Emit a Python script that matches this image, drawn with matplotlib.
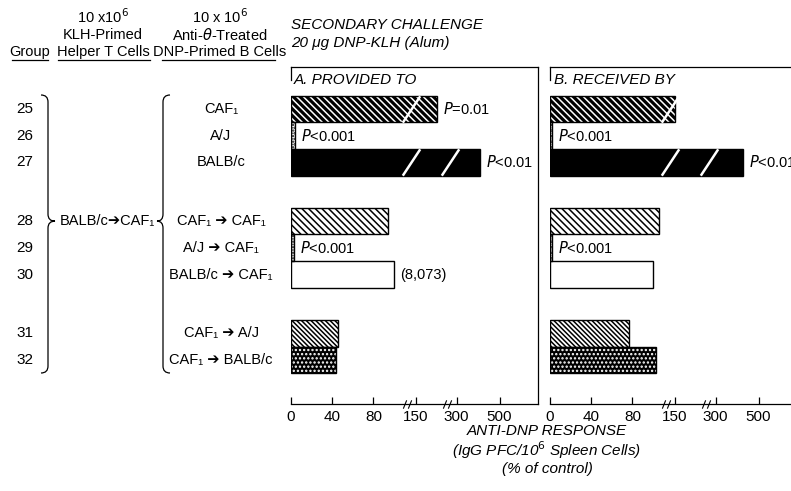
import numpy as np
import matplotlib
matplotlib.use('Agg')
import matplotlib.pyplot as plt
from matplotlib.path import Path
from matplotlib.patches import PathPatch

# ---------------- data ----------------
groups = ['25', '26', '27', '28', '29', '30', '31', '32']
t_cells = 'BALB/c➔CAF₁'
b_cells = ['CAF₁', 'A/J', 'BALB/c', 'CAF₁ ➔ CAF₁', 'A/J ➔ CAF₁',
           'BALB/c ➔ CAF₁', 'CAF₁ ➔ A/J', 'CAF₁ ➔ BALB/c']
provided = [230, 4, 410, 94, 3, 100, 46, 44]
received = [150, 2, 428, 106, 2, 100, 77, 103]
notes_provided = [r'$P$=0.01', r'$P$<0.001', r'$P$<0.01', '', r'$P$<0.001', '(8,073)', '', '']
notes_received = ['', r'$P$<0.001', r'$P$<0.01', '', r'$P$<0.001', '', '', '']
tick_values = [0, 40, 80, 150, 300, 500]

# ---------------- style / layout ----------------
FONT = ['Liberation Sans', 'DejaVu Sans']
plt.rcParams['font.family'] = FONT
plt.rcParams['mathtext.fontset'] = 'dejavusans'
plt.rcParams['hatch.linewidth'] = 1.1

W, H = 791, 491
def fx(x):
    return x / W
def fy(y):
    return 1 - y / H

fig = plt.figure(figsize=(W / 100, H / 100), dpi=100)

ypos = [0, 1, 2, 4.2, 5.2, 6.2, 8.4, 9.4]
faces = ['black', 'white', 'black', 'white', 'white', 'white', 'white', 'black']
hcols = ['white', 'black', 'black', 'black', 'black', 'black', 'black', 'white']
hatches = ['\\' * 5, '.' * 6, '', '\\' * 5, '.' * 6, '', '\\' * 7, '.' * 4]

# broken-axis scale (piecewise linear)
VK = [0, 110, 150, 300, 500, 700]
PK = [0, 113.4, 124.5, 165.5, 208.5, 251.5]
def fwd(v):
    return np.interp(np.asarray(v, dtype=float), VK, PK)
def inv(p):
    return np.interp(np.asarray(p, dtype=float), PK, VK)
AXIS_BREAKS = [120, 265]
BAR_BREAKS = [132, 276]

slash = Path([(-0.33, -0.5), (0.33, 0.5)], [Path.MOVETO, Path.LINETO])
dbl = Path([(-0.5, -0.5), (-0.1, 0.5), (0.1, -0.5), (0.5, 0.5)],
           [Path.MOVETO, Path.LINETO, Path.MOVETO, Path.LINETO])

def panel(left_px, right_px, vals, notes, right_spine):
    ax = fig.add_axes([fx(left_px), fy(404), (right_px - left_px) / W, (404 - 67) / H])
    ax.set_xscale('function', functions=(fwd, inv))
    ax.set_xlim(0, float(inv(right_px - left_px)))
    ax.set_ylim(11.05, -1.573)
    bars = ax.barh(ypos, vals, height=1.0, color=faces, edgecolor=hcols, linewidth=0)
    for b, h in zip(bars, hatches):
        if h:
            b.set_hatch(h)
    ax.barh(ypos, vals, height=1.0, fill=False, edgecolor='black', linewidth=1.0)
    for v, y in zip(vals, ypos):
        for brk in BAR_BREAKS:
            if v > brk + 10:
                ax.plot([brk], [y], marker=slash, ms=19, mec='white', mew=1.8,
                        ls='none', zorder=5)
    for v, y, n in zip(vals, ypos, notes):
        if n:
            ax.annotate(n, xy=(v, y), xytext=(4, 0), textcoords='offset points',
                        va='center', ha='left', fontsize=10.5, annotation_clip=False)
    ax.plot(AXIS_BREAKS, [0, 0], transform=ax.get_xaxis_transform(), marker=dbl, ms=6,
            mec='black', mew=0.8, ls='none', clip_on=False)
    ax.set_xticks(tick_values)
    ax.set_xticklabels([str(t) for t in tick_values])
    ax.minorticks_off()
    ax.set_yticks([])
    ax.tick_params(axis='x', direction='in', length=5, width=0.9, labelsize=11, pad=4)
    ax.spines['right'].set_visible(right_spine)
    ax.spines['left'].set_bounds(-1.573, -1.08)
    for s in ax.spines.values():
        s.set_linewidth(0.9)
    return ax

axA = panel(291, 538, provided, notes_provided, True)
axB = panel(550, 791, received, notes_received, False)

# ---------------- titles ----------------
fig.text(fx(291), fy(25), 'SECONDARY CHALLENGE', style='italic', fontsize=11, va='center')
fig.text(fx(291), fy(43), '20 μg DNP-KLH (Alum)', style='italic', fontsize=11, va='center')
fig.text(fx(294), fy(80), 'A. PROVIDED TO', style='italic', fontsize=11, va='center')
fig.text(fx(554), fy(80), 'B. RECEIVED BY', style='italic', fontsize=11, va='center')

fig.text(fx(547), fy(431), 'ANTI-DNP RESPONSE', style='italic', fontsize=11, va='center', ha='center')
fig.text(fx(547), fy(450), '(IgG PFC/10$^6$ Spleen Cells)', style='italic', fontsize=11, va='center', ha='center')
fig.text(fx(547), fy(469), '(% of control)', style='italic', fontsize=11, va='center', ha='center')

# ---------------- left table ----------------
fig.text(fx(30), fy(52), 'Group', fontsize=10.5, va='center', ha='center')
fig.text(fx(103), fy(17), '10 x10$^6$', fontsize=10.5, va='center', ha='center')
fig.text(fx(103), fy(35), 'KLH-Primed', fontsize=10.5, va='center', ha='center')
fig.text(fx(103), fy(52), 'Helper T Cells', fontsize=10.5, va='center', ha='center')
fig.text(fx(220), fy(17), '10 x 10$^6$', fontsize=10.5, va='center', ha='center')
fig.text(fx(220), fy(35), r'Anti-$\theta$-Treated', fontsize=10.5, va='center', ha='center')
fig.text(fx(220), fy(52), 'DNP-Primed B Cells', fontsize=10.5, va='center', ha='center')
for x0, x1 in [(12, 48), (58, 150), (162, 275)]:
    fig.add_artist(plt.Line2D([fx(x0), fx(x1)], [fy(60), fy(60)], color='black', lw=0.9,
                              transform=fig.transFigure))

# row labels placed on the bar rows via panel A's y scale
for y, g, b in zip(ypos, groups, b_cells):
    yy = axA.transData.transform((0, y))[1] / H
    fig.text(fx(25), yy, g, fontsize=11, va='center', ha='center')
    fig.text(fx(221), yy, b, fontsize=10.5, va='center', ha='center')

ymid = axA.transData.transform((0, ypos[3]))[1] / H
fig.text(fx(107), ymid, t_cells, fontsize=10.5, va='center', ha='center')

def brace(xv, xtip, xend, ytop, ymid_px, ybot):
    verts = [(xend, ytop), (xv, ytop), (xv, ytop + 7),
             (xv, ymid_px - 7),
             (xv, ymid_px), (xtip, ymid_px),
             (xv, ymid_px), (xv, ymid_px + 7),
             (xv, ybot - 7),
             (xv, ybot), (xend, ybot)]
    codes = [Path.MOVETO, Path.CURVE3, Path.CURVE3, Path.LINETO,
             Path.CURVE3, Path.CURVE3, Path.CURVE3, Path.CURVE3, Path.LINETO,
             Path.CURVE3, Path.CURVE3]
    v = [(fx(a), fy(b)) for a, b in verts]
    fig.add_artist(PathPatch(Path(v, codes), fill=False, lw=0.9, color='black',
                             transform=fig.transFigure))

ymid_px = (1 - ymid) * H
brace(48, 55, 41, 95, ymid_px, 373)
brace(163, 157, 170, 95, ymid_px, 373)

fig.savefig('out.png', dpi=100)
